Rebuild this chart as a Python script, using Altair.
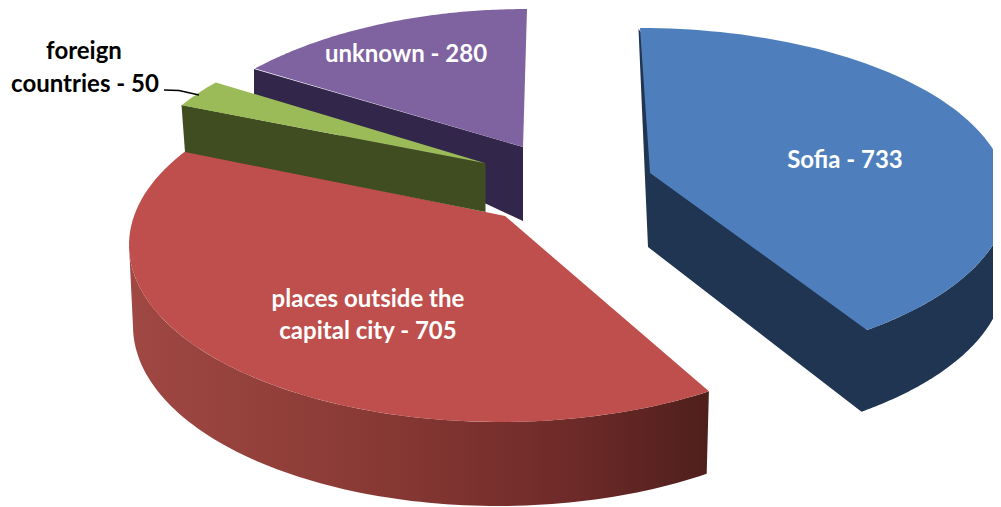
import math
import altair as alt

# chart values
categories = ["Sofia", "places outside the capital city", "foreign countries", "unknown"]
values = [733, 705, 50, 280]
label_lines = [["Sofia - 733"], ["places outside the", "capital city - 705"], ["foreign", "countries - 50"], ["unknown - 280"]]

TOTAL = sum(values)
OFFSET = 8  # page margin


def pt(x, y):
    return [x - OFFSET, y - OFFSET]


def arc(e, t0, t1, n=90):
    cx, cy, rx, ry = e
    out = []
    for i in range(n + 1):
        t = math.radians(t0 + (t1 - t0) * i / n)
        out.append(pt(cx + rx * math.cos(t), cy - ry * math.sin(t)))
    return out


def sweep(value, k):
    return value / TOTAL * 360 * k


def feature(points):
    return {"type": "Feature", "properties": {},
            "geometry": {"type": "Polygon", "coordinates": [points + [points[0]]]}}


def shape(points, fill):
    data = alt.InlineData(values={"type": "FeatureCollection", "features": [feature(points)]},
                          format=alt.DataFormat(property="features", type="json"))
    return alt.Chart(data).mark_geoshape(fill=fill, stroke="transparent", strokeWidth=0)


# Sofia
s_top = (640, 197, 368, 169)
s_bot = (640, 275, 365, 172)
s_a0 = 90
s_a1 = s_a0 - sweep(values[0], 0.951)
sofia_side = [pt(638.5, 29), pt(648, 247)] + arc(s_bot, s_a1 - 0.7, 0) + arc(s_top, 0, s_a1)
sofia_top = [pt(650, 173)] + arc(s_top, s_a1, s_a0)

# capital outside
r_top = (500, 245, 371, 177)
r_bot = (498, 326, 365, 180)
r_a0 = 147.8
r_a1 = r_a0 + sweep(values[1], 1.09)
red_side = arc(r_top, 180, r_a1) + arc(r_bot, r_a1 + 0.6, 180)
red_top = [pt(505, 216)] + arc(r_top, r_a0, r_a1)

# foreign
g_top = (503, 189, 370, 169)
g_a0 = 140.9
g_a1 = g_a0 + sweep(values[2], 0.92)
green_side = [pt(181.5, 105), pt(185, 152), pt(485.5, 212), pt(485.5, 163.3)]
green_top = [pt(485.5, 163.3)] + arc(g_top, g_a0, g_a1, 12)

# unknown
p_top = (527, 194, 370, 185)
p_a0 = 90
p_a1 = p_a0 + sweep(values[3], 0.83)
purple_side = [pt(254, 69), pt(254, 95), pt(523, 221), pt(523, 147)]
purple_top = [pt(523, 147)] + arc(p_top, p_a0, p_a1)

red_grad = alt.LinearGradient(
    gradient="linear", x1=0, x2=1, y1=0, y2=0,
    stops=[alt.GradientStop(color="#a04843", offset=0),
           alt.GradientStop(color="#8a3a35", offset=0.4),
           alt.GradientStop(color="#6f2b29", offset=0.75),
           alt.GradientStop(color="#4f1f1c", offset=1)])

layers = [
    shape(purple_side, "#32264a"),
    shape(purple_top, "#7f62a0"),
    shape(sofia_side, "#1f3552"),
    shape(sofia_top, "#4e7fbc"),
    shape(red_side, red_grad),
    shape(red_top, "#be4f4c"),
    shape(green_side, "#3f4d20"),
    shape(green_top, "#9bbb59"),
]

leader = alt.InlineData(
    values={"type": "FeatureCollection", "features": [{
        "type": "Feature", "properties": {},
        "geometry": {"type": "LineString", "coordinates": [pt(164, 90), pt(179, 90.5), pt(199, 95)]}}]},
    format=alt.DataFormat(property="features", type="json"))
layers.append(alt.Chart(leader).mark_geoshape(filled=False, stroke="black", strokeWidth=1.5))

anchors = [[(845, 161)], [(368, 300), (368, 332)], [(84, 52), (85, 85)], [(406, 55)]]
text_colors = ["white", "white", "black", "white"]
rows = []
for lines, spots, col in zip(label_lines, anchors, text_colors):
    for line, (x, y) in zip(lines, spots):
        lon, lat = pt(x, y)
        rows.append({"t": line, "lon": lon, "lat": lat, "c": col})

text = alt.Chart(alt.Data(values=rows)).mark_text(
    font="Lato", fontWeight="bold", fontSize=24, align="center", baseline="middle"
).encode(longitude="lon:Q", latitude="lat:Q", text="t:N", color=alt.Color("c:N", scale=None))
layers.append(text)

chart = alt.layer(*layers).properties(
    width=985, height=499, padding=0, background="white",
    projection=alt.Projection(type="identity", scale=1, translate=[0, 0])
).configure_view(stroke=None)

chart.save("out.html", embed_options={"renderer": "svg", "actions": False})
